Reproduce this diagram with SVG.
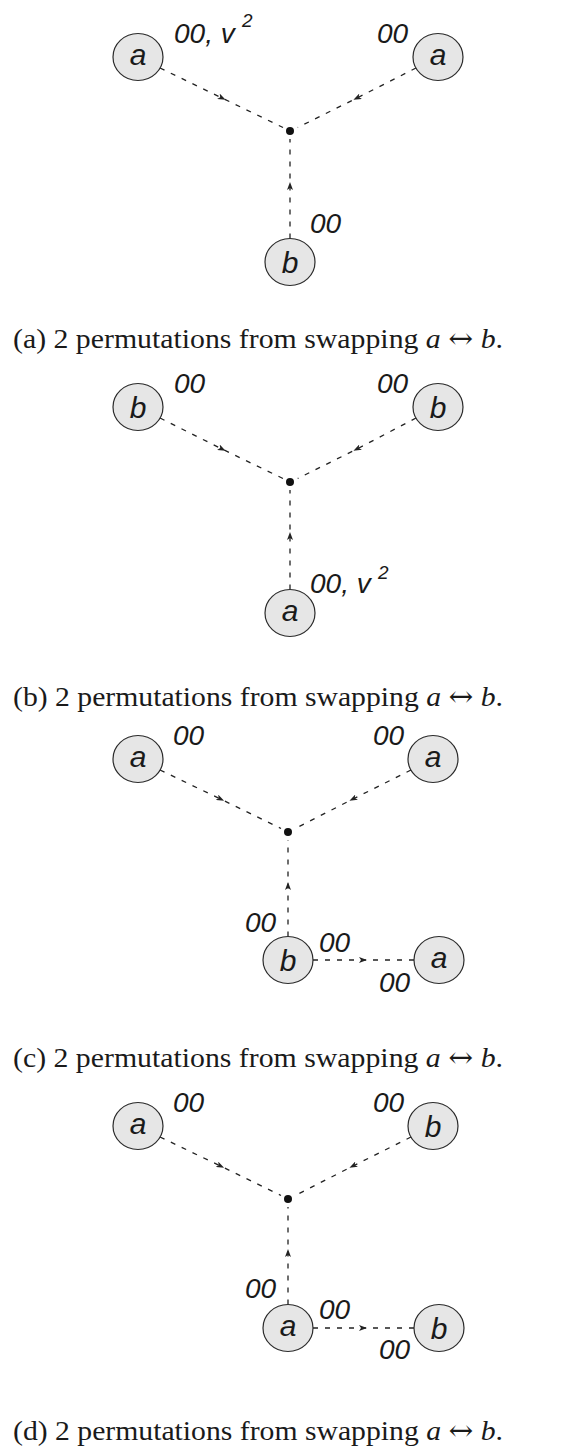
<svg xmlns="http://www.w3.org/2000/svg" width="573" height="1451" viewBox="0 0 573 1451">
<style>
.node ellipse{fill:#e6e6e6;stroke:#2a2a2a;stroke-width:1.2}
.node text{font-family:"Liberation Sans",Arial,sans-serif;font-style:italic;font-size:30px;fill:#1a1a1a;text-anchor:middle}
.edge{fill:none;stroke:#222;stroke-width:1.3;stroke-dasharray:5 7;marker-mid:url(#arr)}
.lbl{font-family:"Liberation Sans",Arial,sans-serif;font-style:italic;font-size:28px;fill:#1a1a1a}
.sup{font-size:19px}
.cap{font-family:"Liberation Serif","Times New Roman",serif;font-size:28px;fill:#1a1a1a}
.cap .m{font-style:italic}
.cap .ar{font-family:"DejaVu Serif",serif;font-size:28px}
.dot{fill:#111}
</style>
<defs>
<marker id="arr" viewBox="0 0 8 6" refX="4" refY="3" markerWidth="8" markerHeight="6" markerUnits="userSpaceOnUse" orient="auto">
<path d="M0,0 L8,3 L0,6 L2,3 z" fill="#222"/>
</marker>
</defs>

<g id="connectors">
<path class="edge" d="M160,68 L222,98 L283,127.5"/>
<path class="edge" d="M416,68 L357,98 L297.7,127.5"/>
<path class="edge" d="M290,238.5 L290,186 L290,139"/>

<path class="edge" d="M160,418 L222,449 L283,478.5"/>
<path class="edge" d="M416,418 L357,449 L297.7,478.5"/>
<path class="edge" d="M290,589.5 L290,536 L290,490"/>

<path class="edge" d="M160,770 L220.5,799 L281,828.5"/>
<path class="edge" d="M411,770 L353,799 L295.2,828.5"/>
<path class="edge" d="M288,936.5 L288,886 L288,840"/>
<path class="edge" d="M313,960 L363,960 L414,960"/>

<path class="edge" d="M160,1137 L220.5,1166 L281,1195.5"/>
<path class="edge" d="M411,1137 L353,1166 L295.2,1195.5"/>
<path class="edge" d="M288,1304.5 L288,1253 L288,1207"/>
<path class="edge" d="M313,1328 L363,1328 L414,1328"/>
</g>

<!-- panel a -->
<g id="a-n1" class="node"><ellipse cx="138" cy="57" rx="25" ry="23.5"/><text x="138" y="65">a</text></g>
<g id="a-n2" class="node"><ellipse cx="438" cy="57" rx="25" ry="23.5"/><text x="438" y="65">a</text></g>
<g id="a-n3" class="node"><ellipse cx="290" cy="262" rx="25" ry="23.5"/><text x="290" y="273">b</text></g>
<g id="a-hub"><circle class="dot" cx="290" cy="131" r="4"/></g>
<g id="a-labels">
<text class="lbl" x="174" y="43">00, v</text><text class="lbl sup" x="242" y="27">2</text>
<text class="lbl" x="377" y="43">00</text>
<text class="lbl" x="310" y="233">00</text>
</g>
<text id="cap-a" class="cap" x="13" y="348" textLength="490" lengthAdjust="spacingAndGlyphs">(a) 2 permutations from swapping <tspan class="m">a</tspan> <tspan class="ar">↔</tspan> <tspan class="m">b</tspan>.</text>

<!-- panel b -->
<g id="b-n1" class="node"><ellipse cx="138" cy="407" rx="25" ry="23.5"/><text x="138" y="418">b</text></g>
<g id="b-n2" class="node"><ellipse cx="438" cy="407" rx="25" ry="23.5"/><text x="438" y="418">b</text></g>
<g id="b-n3" class="node"><ellipse cx="290" cy="613" rx="25" ry="23.5"/><text x="290" y="621">a</text></g>
<g id="b-hub"><circle class="dot" cx="290" cy="482" r="4"/></g>
<g id="b-labels">
<text class="lbl" x="174" y="393">00</text>
<text class="lbl" x="377" y="393">00</text>
<text class="lbl" x="310" y="593">00, v</text><text class="lbl sup" x="378" y="579">2</text>
</g>
<text id="cap-b" class="cap" x="13" y="706" textLength="490" lengthAdjust="spacingAndGlyphs">(b) 2 permutations from swapping <tspan class="m">a</tspan> <tspan class="ar">↔</tspan> <tspan class="m">b</tspan>.</text>

<!-- panel c -->
<g id="c-n1" class="node"><ellipse cx="138" cy="759" rx="25" ry="23.5"/><text x="138" y="767">a</text></g>
<g id="c-n2" class="node"><ellipse cx="433" cy="759" rx="25" ry="23.5"/><text x="433" y="767">a</text></g>
<g id="c-n3" class="node"><ellipse cx="288" cy="960" rx="25" ry="23.5"/><text x="288" y="971">b</text></g>
<g id="c-n4" class="node"><ellipse cx="439" cy="960" rx="25" ry="23.5"/><text x="439" y="968">a</text></g>
<g id="c-hub"><circle class="dot" cx="288" cy="832" r="4"/></g>
<g id="c-labels">
<text class="lbl" x="173" y="745">00</text>
<text class="lbl" x="373" y="745">00</text>
<text class="lbl" x="245" y="932">00</text>
<text class="lbl" x="319" y="952">00</text>
<text class="lbl" x="379" y="992">00</text>
</g>
<text id="cap-c" class="cap" x="13" y="1067" textLength="490" lengthAdjust="spacingAndGlyphs">(c) 2 permutations from swapping <tspan class="m">a</tspan> <tspan class="ar">↔</tspan> <tspan class="m">b</tspan>.</text>

<!-- panel d -->
<g id="d-n1" class="node"><ellipse cx="138" cy="1126" rx="25" ry="23.5"/><text x="138" y="1134">a</text></g>
<g id="d-n2" class="node"><ellipse cx="433" cy="1126" rx="25" ry="23.5"/><text x="433" y="1137">b</text></g>
<g id="d-n3" class="node"><ellipse cx="288" cy="1328" rx="25" ry="23.5"/><text x="288" y="1336">a</text></g>
<g id="d-n4" class="node"><ellipse cx="439" cy="1328" rx="25" ry="23.5"/><text x="439" y="1339">b</text></g>
<g id="d-hub"><circle class="dot" cx="288" cy="1199" r="4"/></g>
<g id="d-labels">
<text class="lbl" x="173" y="1112">00</text>
<text class="lbl" x="373" y="1112">00</text>
<text class="lbl" x="245" y="1298">00</text>
<text class="lbl" x="319" y="1319">00</text>
<text class="lbl" x="379" y="1359">00</text>
</g>
<text id="cap-d" class="cap" x="13" y="1440" textLength="490" lengthAdjust="spacingAndGlyphs">(d) 2 permutations from swapping <tspan class="m">a</tspan> <tspan class="ar">↔</tspan> <tspan class="m">b</tspan>.</text>
</svg>
